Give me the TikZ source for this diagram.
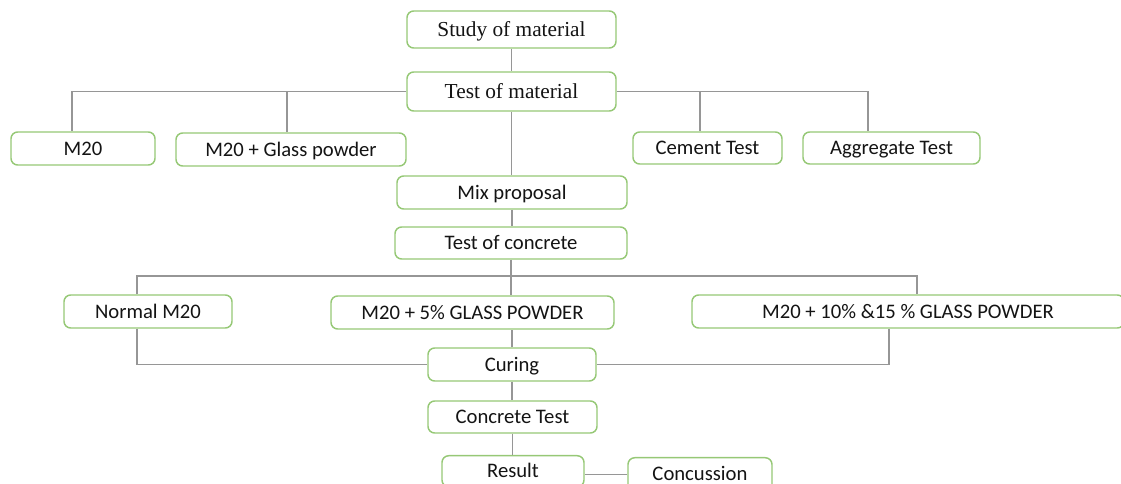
\documentclass[tikz,border=0pt]{standalone}
\usepackage{fontspec}
\setmainfont{Liberation Serif}
\newfontfamily\calfont{Carlito}
\definecolor{boxgreen}{RGB}{150,200,118}
\definecolor{lngray}{RGB}{150,150,150}
\definecolor{txt}{RGB}{20,20,20}
\begin{document}
\begin{tikzpicture}[x=0.75pt,y=-0.75pt,
  bx/.style 2 args={draw=boxgreen, rounded corners=5pt, line width=1.1pt, fill=white,
    minimum width=#1*0.75pt, minimum height=#2*0.75pt, inner sep=0pt, text=txt,
    text depth=0pt},
  serifbox/.style={font=\fontsize{16}{18}\selectfont, text height=10.6pt},
  sansbox/.style={font=\calfont\fontsize{15.5}{17}\selectfont, text height=10pt},
  ln/.style={draw=lngray, line width=1.1pt}]
\useasboundingbox (0,0) rectangle (1121,484);
\clip (0,0) rectangle (1121,484);
% drop coordinates
\coordinate (dA) at (72,0);
\coordinate (dB) at (287,0);
\coordinate (dC) at (700,0);
\coordinate (dD) at (868,0);
\coordinate (dE) at (137,0);
\coordinate (dF) at (917,276);
\coordinate (dG) at (889,0);
% nodes
\node[bx={209}{37}, serifbox] (study) at (511.5,29.5) {Study of material};
\node[bx={209}{39}, serifbox] (testmat) at (511.5,91.5) {Test of material};
\node[bx={144}{33}, sansbox] (m20) at (83,148.5) {M20};
\node[bx={230}{33}, sansbox] (m20g) at (291,149.5) {M20 + Glass powder};
\node[bx={149}{32}, sansbox] (cement) at (707.5,148) {Cement Test};
\node[bx={177}{32}, sansbox] (aggr) at (891.5,148) {Aggregate Test};
\node[bx={230}{33}, sansbox] (mix) at (512,192.5) {Mix proposal};
\node[bx={232}{32}, sansbox] (testcon) at (511,243) {Test of concrete};
\node[bx={168}{33}, sansbox] (normal) at (148,311.5) {Normal M20};
\node[bx={283}{33}, sansbox] (five) at (472.5,312.5) {M20 + 5\% GLASS POWDER};
\node[bx={432}{33}, sansbox] (ten) at (908,311.5) {M20 + 10\% \&15 \% GLASS POWDER};
\node[bx={168}{33}, sansbox] (curing) at (512,364.5) {Curing};
\node[bx={169}{32}, sansbox] (ctest) at (512.5,417) {Concrete Test};
\node[bx={142}{31}, sansbox, anchor=north] (result) at (513,455) {Result};
\node[bx={144}{33}, sansbox, anchor=north] (conc) at (700,457) {Concussion};
% connectors
\draw[ln] (study.south) -- (testmat.north);
\draw[ln] (testmat.west) -| (dA |- m20.north);
\draw[ln] (dB |- testmat.west) -- (dB |- m20g.north);
\draw[ln] (testmat.east) -| (dD |- aggr.north);
\draw[ln] (dC |- testmat.east) -- (dC |- cement.north);
\draw[ln] (testmat.south) -- (testmat.south |- mix.north);
\draw[ln] (mix.south) -- (mix.south |- testcon.north);
\draw[ln] (testcon.south) -- (testcon.south |- five.north);
\draw[ln] (dE |- normal.north) |- (dF) -- (dF |- ten.north);
\draw[ln] (dE |- normal.south) |- (curing.west);
\draw[ln] (dG |- ten.south) |- (curing.east);
\draw[ln] (curing.north) -- (curing.north |- five.south);
\draw[ln] (curing.south) -- (curing.south |- ctest.north);
\draw[ln] (ctest.south) -- (ctest.south |- result.north);
\draw[ln] (conc.west) -- (conc.west -| result.east);
\end{tikzpicture}
\end{document}
